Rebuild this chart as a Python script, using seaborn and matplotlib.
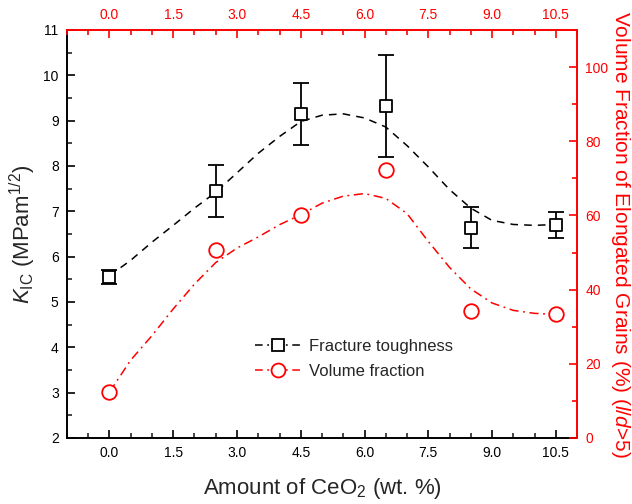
import numpy as np
import pandas as pd
import matplotlib
matplotlib.use("Agg")
import matplotlib.pyplot as plt
import seaborn as sns
from matplotlib.lines import Line2D
from matplotlib.ticker import MultipleLocator

# ---- data ----
ceo2 = [0.0, 2.5, 4.5, 6.5, 8.5, 10.5]
kic = [5.55, 7.45, 9.15, 9.32, 6.64, 6.70]
kic_err = [0.15, 0.57, 0.69, 1.12, 0.46, 0.28]
vol_frac = [12.4, 50.6, 60.0, 72.3, 34.3, 33.3]

# fitted (guide) curves
fit_x = [0.0, 0.5, 1.0, 1.5, 2.0, 2.5, 3.0, 3.5, 4.0, 4.5, 5.0, 5.5,
         6.0, 6.5, 7.0, 7.5, 8.0, 8.5, 9.0, 9.5, 10.0, 10.5]
kic_fit = [5.58, 5.92, 6.32, 6.69, 7.07, 7.42, 7.85, 8.28, 8.65, 8.98, 9.12, 9.15,
           9.06, 8.86, 8.45, 7.98, 7.48, 7.07, 6.80, 6.71, 6.69, 6.71]
vol_fit = [12.4, 21.0, 27.6, 34.8, 41.5, 47.3, 51.2, 54.2, 57.5, 60.2, 63.3, 65.2,
           65.9, 64.6, 60.5, 53.0, 46.0, 40.2, 36.4, 34.4, 33.6, 33.3]

x_ticks = [0.0, 1.5, 3.0, 4.5, 6.0, 7.5, 9.0, 10.5]
x_tick_labels = ["0.0", "1.5", "3.0", "4.5", "6.0", "7.5", "9.0", "10.5"]
legend_labels = ["Fracture toughness", "Volume fraction"]

sns.set_theme(style="ticks")
plt.rcParams["font.family"] = ["Liberation Sans", "DejaVu Sans"]
plt.rcParams["mathtext.fontset"] = "custom"
plt.rcParams["mathtext.rm"] = "Liberation Sans"
plt.rcParams["mathtext.it"] = "Liberation Sans:italic"
plt.rcParams["mathtext.bf"] = "Liberation Sans:bold"

df_pts = pd.DataFrame({"x": ceo2, "kic": kic, "vol": vol_frac})
df_fit = pd.DataFrame({"x": fit_x, "kic": kic_fit, "vol": vol_fit})

fig = plt.figure(figsize=(6.32, 5.04), dpi=100)
ax = fig.add_axes([0.106, 0.131, 0.807, 0.8095])
ax2 = ax.twinx()
ax3 = ax.twiny()

red = "#ff0000"

# black fitted curve + points
sns.lineplot(data=df_fit, x="x", y="kic", ax=ax, color="black", lw=1.1,
             linestyle=(0, (5, 4)), zorder=2)
ax.errorbar(ceo2, kic, yerr=kic_err, fmt="none", ecolor="black",
            elinewidth=1.3, capsize=6, capthick=1.3, zorder=3)
sns.scatterplot(data=df_pts, x="x", y="kic", ax=ax, marker="s", s=75,
                facecolor="white", edgecolor="black", linewidth=1.3, zorder=4)

# red fitted curve + points
sns.lineplot(data=df_fit, x="x", y="vol", ax=ax2, color=red, lw=1.1,
             linestyle=(0, (6, 3, 1.2, 3)), zorder=2)
sns.scatterplot(data=df_pts, x="x", y="vol", ax=ax2, marker="o", s=110,
                facecolor="white", edgecolor=red, linewidth=1.3, zorder=4)

# limits / ticks
ax.set_xlim(-1.0, 11.0)
ax.set_ylim(2, 11)
ax2.set_ylim(0, 110)
ax3.set_xlim(-1.0, 11.0)

ax.set_xticks(x_ticks)
ax.set_xticklabels(x_tick_labels)
ax3.set_xticks(x_ticks)
ax3.set_xticklabels(x_tick_labels)
ax.xaxis.set_minor_locator(MultipleLocator(0.5))
ax3.xaxis.set_minor_locator(MultipleLocator(0.5))
ax.yaxis.set_major_locator(MultipleLocator(1))
ax.yaxis.set_minor_locator(MultipleLocator(0.5))
ax2.set_yticks([0, 20, 40, 60, 80, 100])
ax2.yaxis.set_minor_locator(MultipleLocator(10))

for a in (ax, ax2, ax3):
    a.tick_params(which="major", direction="in", length=6, width=1.2, labelsize=10, pad=6)
    a.tick_params(which="minor", direction="in", length=3.5, width=1.2)

ax.tick_params(axis="both", colors="black")
ax2.tick_params(axis="y", which="both", colors=red, labelcolor=red)
ax3.tick_params(axis="x", which="both", colors=red, labelcolor=red)

for s in ("left", "bottom"):
    ax.spines[s].set_linewidth(1.4)
    ax.spines[s].set_color("black")
ax2.spines["right"].set_color(red)
ax2.spines["right"].set_linewidth(1.4)
ax3.spines["top"].set_color(red)
ax3.spines["top"].set_linewidth(1.4)
ax.spines["top"].set_visible(False)
ax.spines["right"].set_visible(False)
for s in ("left", "bottom", "top"):
    ax2.spines[s].set_visible(False)
for s in ("left", "bottom", "right"):
    ax3.spines[s].set_visible(False)

ax.set_xlabel(r"Amount of CeO$_2$ (wt. %)", fontsize=16, labelpad=11)
ax.set_ylabel(r"$K_{\mathrm{IC}}$ (MPam$^{1/2}$)", fontsize=16, labelpad=4)
ax2.set_ylabel(r"Volume Fraction of Elongated Grains (%) ($l/d$>5)",
               fontsize=15, color=red, rotation=270, ha="center", va="center")
ax2.yaxis.set_label_coords(1.085, 0.5)
ax3.set_xlabel("")

# legend
handles = [
    Line2D([], [], color="black", lw=1.1, linestyle=(0, (5, 3, 1.2, 3)),
           marker="s", markersize=8, markerfacecolor="white",
           markeredgecolor="black", markeredgewidth=1.3),
    Line2D([], [], color=red, lw=1.1, linestyle=(0, (5, 3, 1.2, 3)),
           marker="o", markersize=10, markerfacecolor="white",
           markeredgecolor=red, markeredgewidth=1.3),
]
ax2.legend(handles, legend_labels, loc="upper left",
           bbox_to_anchor=(0.34, 0.28), frameon=False, fontsize=12,
           handlelength=2.7, handletextpad=0.5, labelspacing=0.6)

fig.savefig("out.png", dpi=100)
